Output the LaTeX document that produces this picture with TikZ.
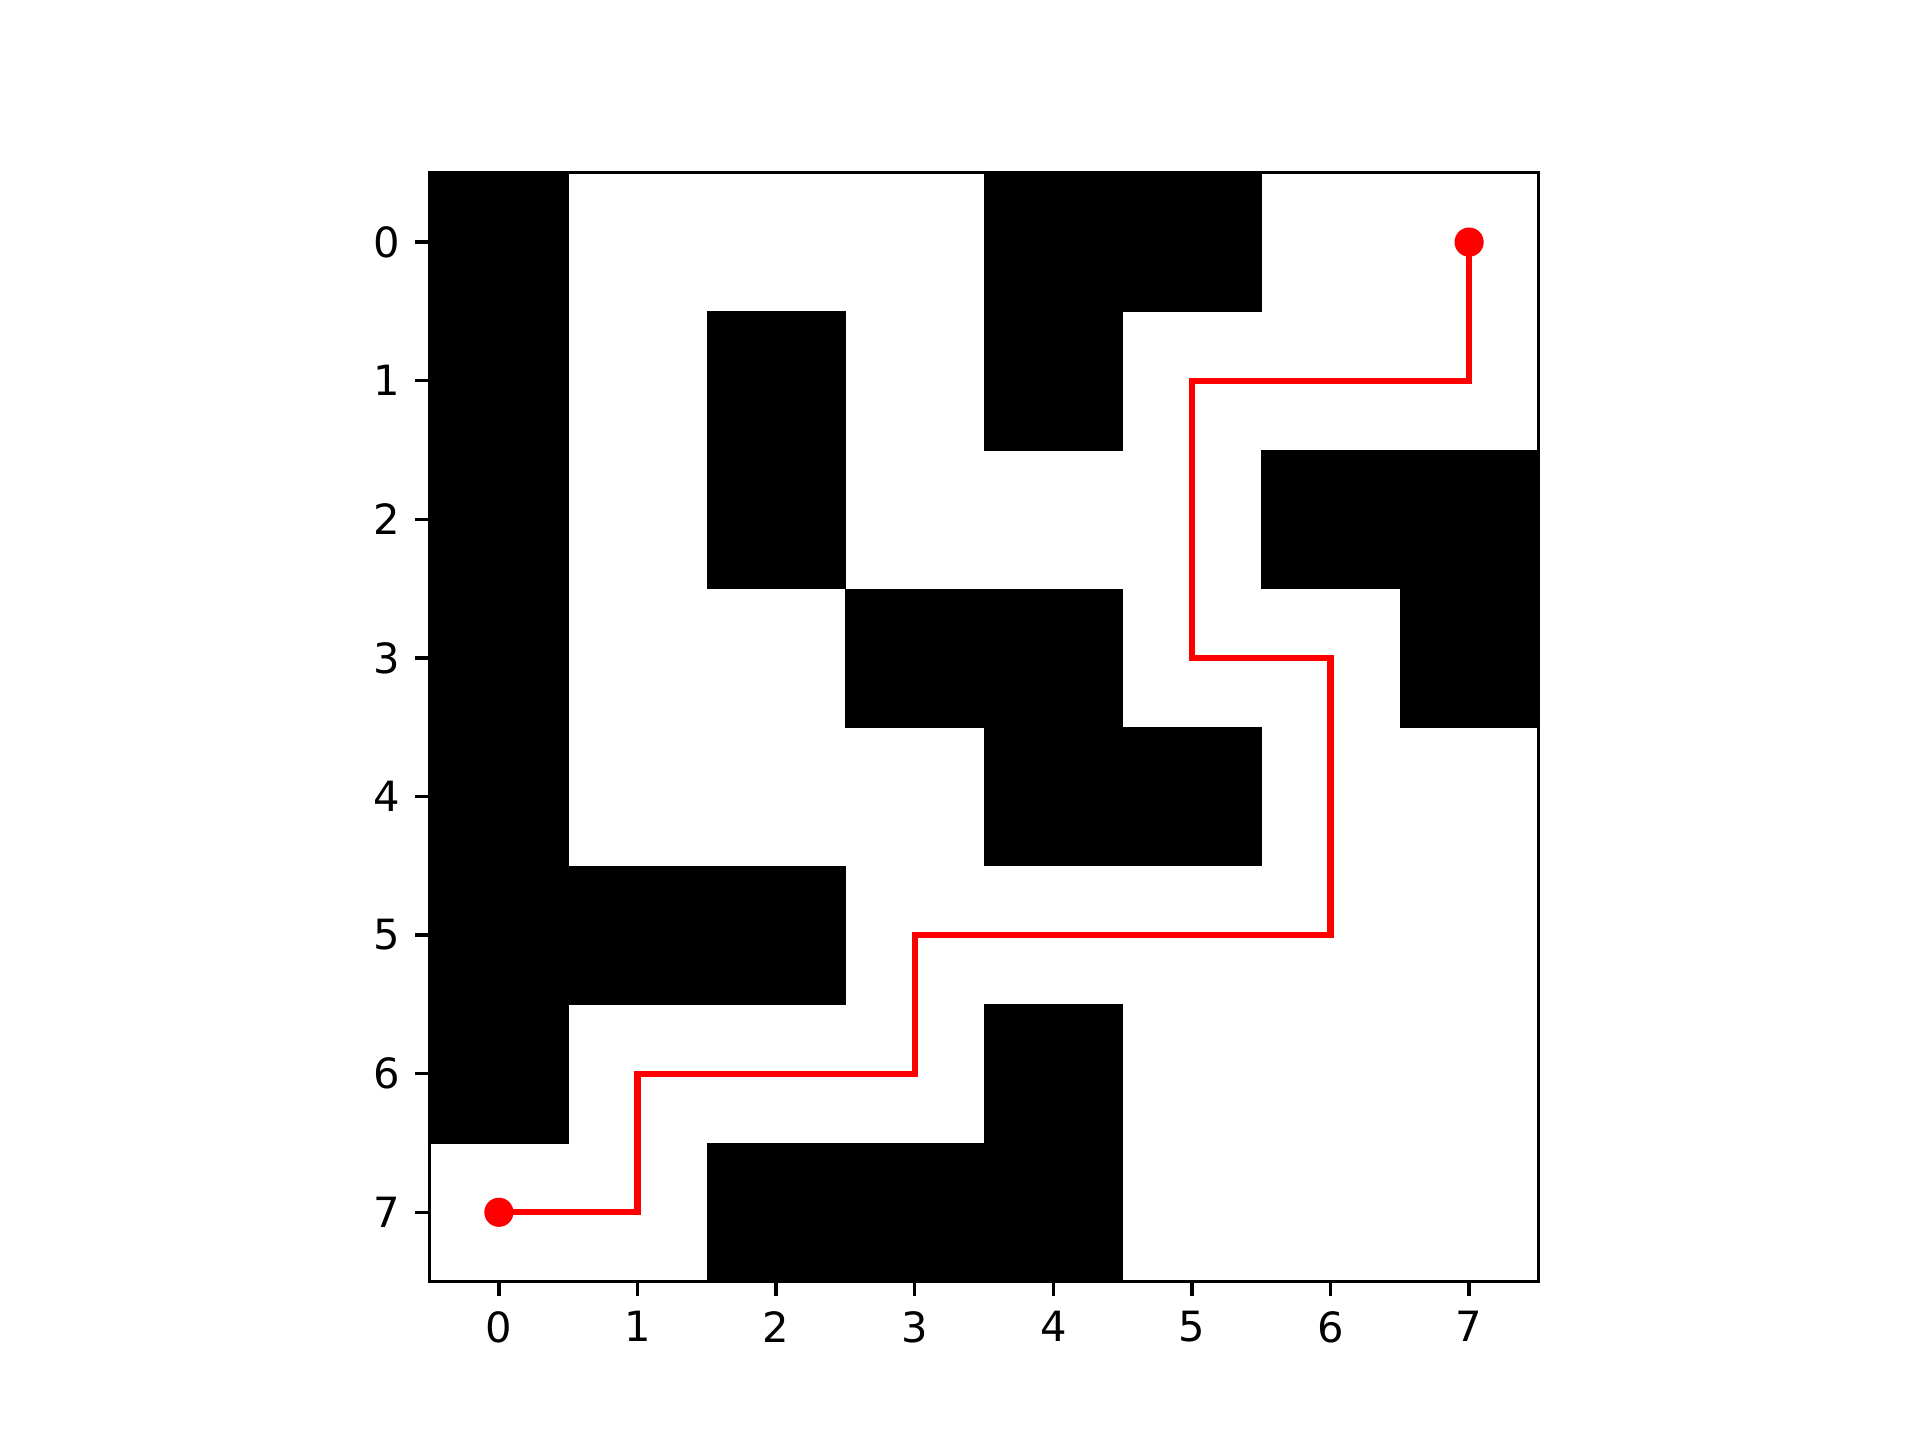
\documentclass[tikz,border=0pt]{standalone}
\usepackage{fontspec}
\setmainfont{DejaVu Sans}
\begin{document}
\begin{tikzpicture}[
  cell/.style={fill=black, draw=none},
  spine/.style={draw=black, line width=0.8pt},
  tickmark/.style={draw=black, line width=0.8pt},
  route/.style={draw=red, line width=1.5pt, line join=miter, line cap=rect},
  dot/.style={circle, fill=red, draw=none, minimum size=7pt, inner sep=0pt},
  xlab/.style={anchor=north, inner sep=0pt, font=\fontsize{10pt}{12pt}\selectfont},
  ylab/.style={anchor=east, inner sep=0pt, font=\fontsize{10pt}{12pt}\selectfont}
]
\useasboundingbox (0,0) rectangle (460.8pt,345.6pt);
\begin{scope}[shift={(103.104pt,304.128pt)}, x=33.264pt, y=-33.264pt]
  % black cells (row i, col j) -> rectangle (j,i) to (j+1,i+1)
  \foreach \r/\c in {0/0,0/4,0/5,
                     1/0,1/2,1/4,
                     2/0,2/2,2/6,2/7,
                     3/0,3/3,3/4,3/7,
                     4/0,4/4,4/5,
                     5/0,5/1,5/2,
                     6/0,6/4,
                     7/2,7/3,7/4}
    \fill[cell] (\c,\r) rectangle ++(1.004,1.004);
  % clean right/bottom overlaps at border
  \fill[white] (8,-0.1) rectangle (8.2,8.2);
  \fill[white] (-0.1,8) rectangle (8.2,8.2);
  % path coordinates
  \coordinate (p0) at (0.5,7.5);
  \coordinate (p1) at (1.5,7.5);
  \coordinate (p2) at (1.5,6.5);
  \coordinate (p3) at (3.5,6.5);
  \coordinate (p4) at (3.5,5.5);
  \coordinate (p5) at (6.5,5.5);
  \coordinate (p6) at (6.5,3.5);
  \coordinate (p7) at (5.5,3.5);
  \coordinate (p8) at (5.5,1.5);
  \coordinate (p9) at (7.5,1.5);
  \coordinate (p10) at (7.5,0.5);
  \draw[route] (p0) -- (p1) -- (p2) -- (p3) -- (p4) -- (p5) -- (p6) -- (p7) -- (p8) -- (p9) -- (p10);
  \node[dot] (start) at (p0) {};
  \node[dot] (goal) at (p10) {};
  % spines
  \draw[spine] (0,0) rectangle (8,8);
  % ticks and labels
  \foreach \k in {0,...,7} {
    \draw[tickmark] (\k+0.5,8) -- ++(0,-3.5pt);
    \node[xlab] (xl\k) at ([yshift=-7pt]\k+0.5,8) {\k};
    \draw[tickmark] (0,\k+0.5) -- ++(-3.5pt,0);
    \node[ylab] (yl\k) at ([xshift=-7pt]0,\k+0.5) {\k};
  }
\end{scope}
\end{tikzpicture}
\end{document}
